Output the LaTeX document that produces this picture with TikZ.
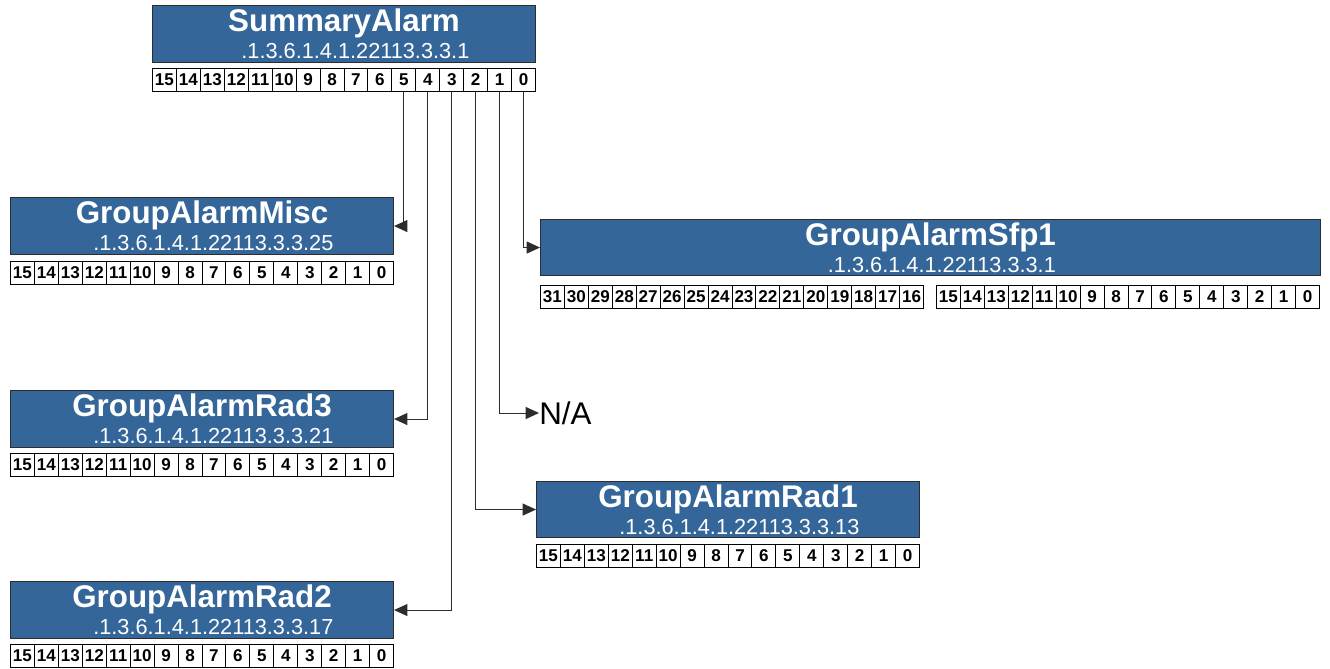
\documentclass[tikz,border=0pt]{standalone}
\usepackage{fontspec}
\setmainfont{Liberation Sans}
\usetikzlibrary{arrows.meta}
\definecolor{boxblue}{RGB}{52,102,153}
\definecolor{linegray}{RGB}{45,45,45}
\tikzset{
  abox/.style={draw=linegray, line width=0.8pt, fill=boxblue, inner sep=0pt},
  atitle/.style={text=white, font=\bfseries\fontsize{23.5}{25}\selectfont, inner sep=0pt},
  aoid/.style={text=white, font=\fontsize{16.3}{18}\selectfont, inner sep=0pt},
  bitcell/.style={draw=black, line width=0.75pt, fill=white, inner sep=0pt,
    minimum width=17.955pt, minimum height=17pt, text height=9pt, text depth=0pt,
    font=\bfseries\fontsize{12.8}{13}\selectfont},
  conn/.style={draw=linegray, line width=0.75pt, -{Triangle[length=10pt,width=9pt]}},
  natext/.style={font=\fontsize{23.5}{25}\selectfont, inner sep=0pt, text height=16.8pt, text depth=0pt}
}
\newcommand{\alarmbox}[7]{%
  \node[abox, anchor=north west, minimum width=#4*0.75pt, minimum height=#5*0.75pt] (#1) at (#2,#3) {};
  \node[atitle, anchor=base] (#1-t) at ([yshift=-20pt]#1.north) {#6};
  \node[aoid, anchor=base] (#1-o) at ([xshift=8.5pt,yshift=-39.8pt]#1.north) {#7};
}
\newcommand{\bitrow}[4]{%
  \foreach \i in {0,...,15}{%
    \pgfmathtruncatemacro{\bnum}{#4-\i}%
    \node[bitcell, anchor=north west] (#1-\bnum) at ({#2+\i*23.94},#3) {\bnum};
  }%
}
\begin{document}
\begin{tikzpicture}[x=0.75pt,y=-0.75pt]
\useasboundingbox (0,0) rectangle (1330,668);
% boxes
\alarmbox{sum}{152}{5}{383}{57}{SummaryAlarm}{.1.3.6.1.4.1.22113.3.3.1}
\bitrow{sumb}{152}{68}{15}
\alarmbox{misc}{10}{197}{383}{57}{GroupAlarmMisc}{.1.3.6.1.4.1.22113.3.3.25}
\bitrow{miscb}{10}{261}{15}
\alarmbox{rad3}{10}{390}{383}{57}{GroupAlarmRad3}{.1.3.6.1.4.1.22113.3.3.21}
\bitrow{rad3b}{10}{453}{15}
\alarmbox{rad2}{10}{581}{383}{57}{GroupAlarmRad2}{.1.3.6.1.4.1.22113.3.3.17}
\bitrow{rad2b}{10}{644}{15}
\alarmbox{rad1}{536}{481}{383}{56}{GroupAlarmRad1}{.1.3.6.1.4.1.22113.3.3.13}
\bitrow{rad1b}{536}{544}{15}
\alarmbox{sfp}{540}{219}{780}{56}{GroupAlarmSfp1}{.1.3.6.1.4.1.22113.3.3.1}
\bitrow{sfphi}{540}{285}{31}
\bitrow{sfplo}{936}{285}{15}
% N/A
\node[natext, anchor=west] (na) at (539,413) {N/A};
% connectors
\draw[conn] (sumb-5.south) |- (misc.east);
\draw[conn] (sumb-4.south) |- (rad3.east);
\draw[conn] (sumb-3.south) |- (rad2.east);
\draw[conn] (sumb-2.south) |- (rad1.west);
\draw[conn] (sumb-1.south) |- (na.west);
\draw[conn] (sumb-0.south) |- (sfp.west);
\end{tikzpicture}
\end{document}
